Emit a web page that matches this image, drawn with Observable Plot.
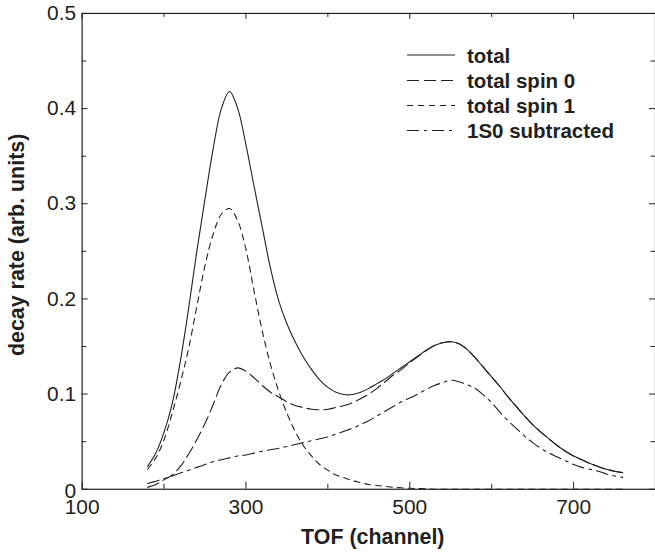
<!DOCTYPE html>
<html><head><meta charset="utf-8">
<script src="https://cdn.jsdelivr.net/npm/d3@7"></script>
<script src="https://cdn.jsdelivr.net/npm/@observablehq/plot@0.6"></script>
<style>
html,body{margin:0;padding:0;background:#fff;overflow:hidden;}
#wrap{position:relative;width:655px;height:554px;overflow:hidden;}
#wrap svg{display:block;}
#legend{position:absolute;left:0;top:0;pointer-events:none;}
</style></head><body><div id="wrap"></div>
<script>
// TOF channel grid
const tof = [180,190,200,210,220,230,240,250,260,270,280,290,300,310,320,330,340,350,360,370,
  380,390,400,410,420,430,440,450,460,470,480,490,500,510,520,530,540,550,560,570,
  580,590,600,610,620,630,640,650,660,670,680,690,700,710,720,730,740,750,760];
// decay rate (arb. units)
const total = [0.024,0.038,0.060,0.090,0.135,0.190,0.250,0.305,0.358,0.400,0.418,0.400,0.362,0.318,0.275,0.232,0.198,0.174,0.155,0.139,
  0.126,0.115,0.107,0.102,0.0995,0.0995,0.102,0.106,0.111,0.116,0.122,0.128,0.134,0.140,0.146,0.151,0.154,0.155,0.153,0.147,
  0.138,0.128,0.118,0.108,0.097,0.087,0.077,0.068,0.060,0.053,0.046,0.040,0.035,0.031,0.027,0.024,0.021,0.019,0.0175];
const spin0 = [0.002,0.005,0.010,0.015,0.024,0.037,0.052,0.069,0.089,0.110,0.123,0.1275,0.124,0.117,0.109,0.102,0.097,0.092,0.088,0.086,
  0.084,0.0835,0.084,0.086,0.088,0.091,0.095,0.100,0.106,0.113,0.120,0.126,0.133,0.1395,0.1455,0.151,0.154,0.155,0.153,0.147,
  0.138,0.128,0.118,0.108,0.097,0.087,0.077,0.068,0.060,0.053,0.046,0.040,0.035,0.031,0.027,0.024,0.021,0.019,0.0175];
const spin1 = [0.021,0.033,0.052,0.080,0.112,0.148,0.192,0.235,0.268,0.289,0.295,0.282,0.252,0.208,0.166,0.131,0.103,0.080,0.061,0.046,
  0.035,0.026,0.020,0.015,0.012,0.009,0.007,0.005,0.004,0.003,0.002,0.0015,0.001,0.0007,0.0005,0,0,0,0,0,
  0,0,0,0,0,0,0,0,0,0,0,0,0,0,0,0,0,0,0];
const subtracted = [0.006,0.0085,0.011,0.014,0.017,0.020,0.023,0.026,0.029,0.031,0.033,0.035,0.036,0.038,0.040,0.0415,0.043,0.045,0.047,0.049,
  0.051,0.053,0.055,0.058,0.061,0.064,0.068,0.072,0.077,0.082,0.087,0.092,0.096,0.100,0.105,0.109,0.112,0.1145,0.113,0.110,
  0.106,0.099,0.091,0.081,0.072,0.064,0.056,0.049,0.043,0.038,0.034,0.030,0.026,0.023,0.021,0.019,0.016,0.014,0.0125];

const seriesNames = ["total", "total spin 0", "total spin 1", "1S0 subtracted"];
const xMajor = [100, 300, 500, 700];
const xMinor = [200, 400, 600];
const yMajor = [0, 0.1, 0.2, 0.3, 0.4, 0.5];
const yMinor = [0.05, 0.15, 0.25, 0.35, 0.45];

const seriesVals = [total, spin0, spin1, subtracted];
const dashes = [undefined, "12,5", "6,5", "12,5,3,5"];
const rows = seriesVals.flatMap((vals, k) => tof.map((t, i) => ({tof: t, rate: vals[i], name: seriesNames[k]})));

const font = "'Liberation Sans', Arial, Helvetica, sans-serif";
const ink = "#231f20";

const W = 658, H = 554, mT = 13, mB = 63, mL = 82, mR = 0;
const fw = W - mL - mR, fh = H - mT - mB;

// inward tick helpers (pixel lengths via insets)
const tickBottom = (vals, len) => Plot.tickX(vals, {x: d => d, insetTop: fh - len, stroke: ink, strokeWidth: 1});
const tickTop = (vals, len) => Plot.tickX(vals, {x: d => d, insetBottom: fh - len, stroke: ink, strokeWidth: 1});
const tickLeft = (vals, len) => Plot.tickY(vals, {y: d => d, insetRight: fw - len, stroke: ink, strokeWidth: 1});
const tickRight = (vals, len) => Plot.tickY(vals, {y: d => d, insetLeft: fw - len, stroke: ink, strokeWidth: 1});

const plot = Plot.plot({
  width: W, height: H,
  marginTop: mT, marginBottom: mB, marginLeft: mL, marginRight: mR,
  style: {fontFamily: font, background: "white", color: ink, overflow: "visible"},
  x: {domain: [100, 800], axis: null},
  y: {domain: [0, 0.5], axis: null},
  marks: [
    ...seriesNames.map((n, k) => Plot.line(rows.filter(r => r.name === n), {
      x: "tof", y: "rate", stroke: ink, strokeWidth: 1.1,
      strokeDasharray: dashes[k], curve: "catmull-rom"
    })),
    Plot.frame({stroke: ink, strokeWidth: 1.2}),
    tickBottom(xMajor, 7), tickBottom(xMinor, 5),
    tickTop(xMajor, 6), tickTop(xMinor, 4),
    tickLeft(yMajor, 6), tickLeft(yMinor, 4.5),
    tickRight(yMajor, 6), tickRight(yMinor, 4.5),
    // tick labels
    Plot.axisX(xMajor, {anchor: "bottom", tickSize: 0, tickPadding: 10, fontSize: 21, label: null, tickFormat: d => String(d), fill: ink}),
    Plot.axisY(yMajor.filter(d => d !== 0), {anchor: "left", tickSize: 0, tickPadding: 6, fontSize: 21, label: null, tickFormat: d => d.toFixed(1), fill: ink}),
    Plot.axisY([0], {anchor: "left", tickSize: 0, tickPadding: 6, dy: 2, fontSize: 21, label: null, tickFormat: () => "0", fill: ink}),
    // axis titles
    Plot.text(["TOF (channel)"], {frameAnchor: "bottom", textAnchor: "middle", lineAnchor: "middle", dx: 4, dy: 48,
      fontSize: 21.5, fontWeight: "bold", fill: ink}),
    Plot.text(["decay rate (arb. units)"], {frameAnchor: "left", textAnchor: "middle", lineAnchor: "middle", rotate: -90,
      dx: -65.7, dy: -6.5, fontSize: 21.5, fontWeight: "bold", fill: ink})
  ]
});
const wrap = document.getElementById("wrap");
wrap.appendChild(plot);

// legend overlay
const leg = d3.select(wrap).append("svg").attr("id", "legend").attr("width", 655).attr("height", 554);
const rowY = [55, 80.5, 105.5, 130.5];
seriesNames.forEach((n, k) => {
  leg.append("line").attr("x1", 407).attr("x2", 455).attr("y1", rowY[k]).attr("y2", rowY[k])
    .attr("stroke", ink).attr("stroke-width", 1.1).attr("stroke-dasharray", dashes[k] || null);
  leg.append("text").attr("x", 467).attr("y", rowY[k] + 7.5).text(n)
    .attr("font-family", font).attr("font-weight", "bold").attr("font-size", 20.5).attr("fill", ink);
});
</script></body></html>
